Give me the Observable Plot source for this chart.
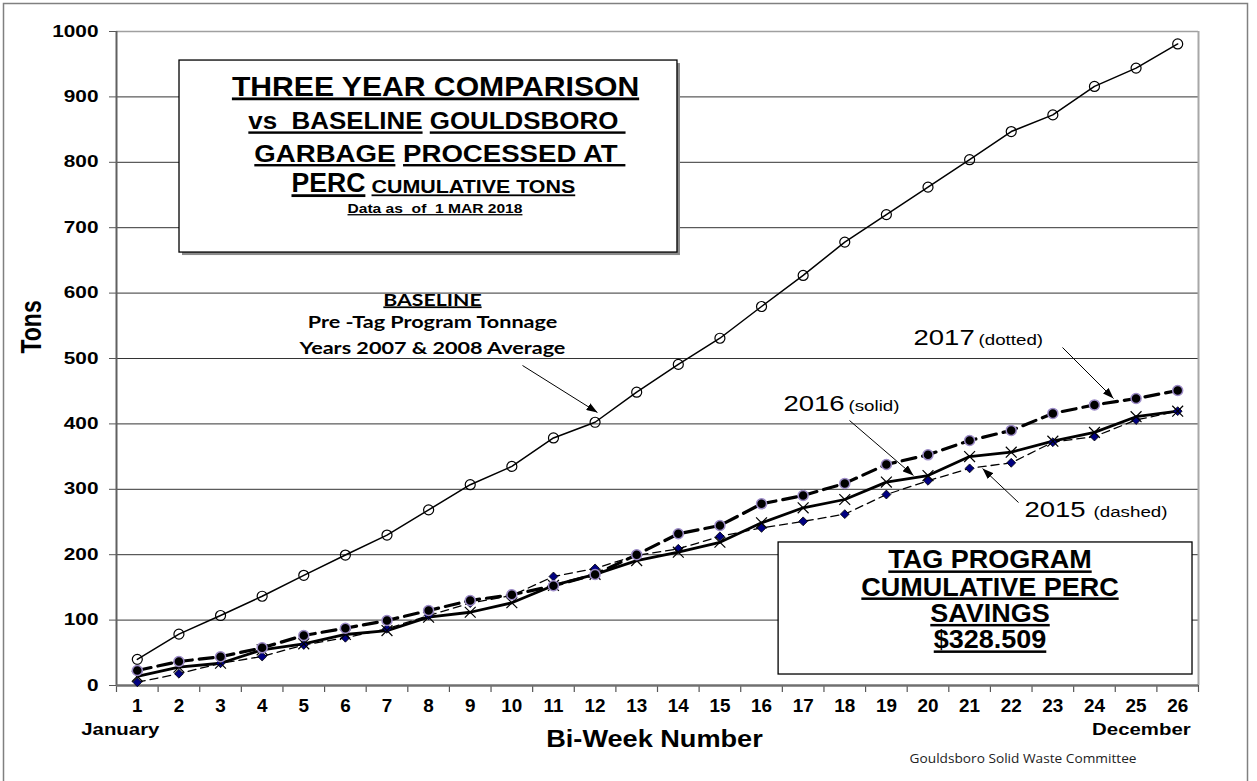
<!DOCTYPE html>
<html><head><meta charset="utf-8">
<script src="https://cdn.jsdelivr.net/npm/d3@7"></script>
<script src="https://cdn.jsdelivr.net/npm/@observablehq/plot@0.6"></script>
<style>html,body{margin:0;padding:0;background:#fff;} #chart svg{display:block;}</style>
</head><body><div id="chart"></div>
<script>
// ---- data ----
const weeks = [1,2,3,4,5,6,7,8,9,10,11,12,13,14,15,16,17,18,19,20,21,22,23,24,25,26];
const baseline = [40,78.5,107,136.5,168.5,199.5,230,268.5,307,335,378.5,402.5,448.5,491,531,579.5,627,678,720,762,804,847,872.5,916,944,981];
const tons2015 = [5,18,34,44.3,62,73,86.7,107,126,137.6,166.7,179,199,209,228,241,251,262,292,313,332,340.5,372,380.7,406,419.5];
const tons2016 = [14,28,34,54.6,63.7,78,84,104.5,112,126.5,153,170,191,203.8,219,248.7,271.7,284.4,311,321,350,356.8,373.6,387,411,419.5];
const tons2017 = [23,36.7,44,57.6,76.5,87.6,99.4,114.7,130,138.7,152.5,169.7,200,232,244.6,277.8,290.5,309,338,352.7,374.6,390,416,429,438.8,451];
const yTicks = [0,100,200,300,400,500,600,700,800,900,1000];
const xTickLabels = weeks.map(String);

const titleLines = ["THREE YEAR COMPARISON","vs  BASELINE GOULDSBORO ","GARBAGE PROCESSED AT ","PERC","CUMULATIVE TONS","Data as  of  1 MAR 2018"];
const tagLines = ["TAG PROGRAM","CUMULATIVE PERC","SAVINGS","$328.509"];
const baselineNote = ["BASELINE","Pre -Tag Program Tonnage","Years 2007 & 2008 Average"];
const seriesLabels = [["2017","(dotted)"],["2016","(solid)"],["2015","(dashed)"]];
const caption = "Gouldsboro Solid Waste Committee";

// ---- tables ----
const rows = (arr, s) => weeks.map((w,i) => ({week:w, tons:arr[i], series:s}));
const dBase = rows(baseline,"Baseline"), d15 = rows(tons2015,"2015"), d16 = rows(tons2016,"2016"), d17 = rows(tons2017,"2017");
const boundaries = [0.5, ...weeks.map(w => w + 0.5)];

// annotation anchors (data units)
const titleBox = {x1:2.014, x2:13.98, y1:662, y2:955.6};
const tagBox = {x1:16.41, x2:26.356, y1:16.8, y2:218.7};
const pointers = [
  {x1:10.256, y1:489.3, x2:12.058, y2:417.4},
  {x1:23.232, y1:516.8, x2:24.458, y2:438.8},
  {x1:18.114, y1:405.2, x2:19.652, y2:321.1},
  {x1:22.175, y1:279.8, x2:21.31,  y2:331.8}
];

const T = (text, opts) => Plot.text([text], {text: d => d, fill: "black", ...opts});

const marks = [
  Plot.frame({stroke:"#808080", strokeWidth:1.5, insetLeft:-113, insetTop:-28, insetRight:-49, insetBottom:-110}),
  Plot.ruleY(yTicks.filter(v => v > 0 && v < 1000), {y: d => d, stroke:"#333", strokeWidth:1}),
  Plot.ruleY([1000], {y: d => d, stroke:"#a0a0a0", strokeWidth:1.5}),
  Plot.ruleX([26.5], {x: d => d, y1:0, y2:1000, stroke:"#a8a8a8", strokeWidth:2}),
  Plot.ruleY(yTicks, {y: d => d, x1:0.5, x2:0.5, insetLeft:-7, stroke:"#555", strokeWidth:1}),
  Plot.ruleX(boundaries, {x: d => d, y1:0, y2:0, insetBottom:-7, stroke:"#555", strokeWidth:1.2}),
  Plot.ruleX([0.5], {x: d => d, y1:0, y2:1000, stroke:"#606060", strokeWidth:2}),
  Plot.ruleY([0], {y: d => d, stroke:"#707070", strokeWidth:2.5}),

  // boxes
  Plot.rect([titleBox], {x1:"x1", x2:"x2", y1:"y1", y2:"y2", fill:"#8a8a8a", dx:3, dy:3}),
  Plot.rect([titleBox], {x1:"x1", x2:"x2", y1:"y1", y2:"y2", fill:"white", stroke:"black", strokeWidth:1.3}),
  Plot.rect([tagBox], {x1:"x1", x2:"x2", y1:"y1", y2:"y2", fill:"white", stroke:"black", strokeWidth:1.3}),

  // series
  Plot.line(dBase, {x:"week", y:"tons", stroke:"black", strokeWidth:1.5}),
  Plot.dot(dBase, {x:"week", y:"tons", r:5, stroke:"black", strokeWidth:1.2, fill:"none"}),
  Plot.line(d15, {x:"week", y:"tons", stroke:"black", strokeWidth:1.3, strokeDasharray:"8,5"}),
  Plot.line(d16, {x:"week", y:"tons", stroke:"black", strokeWidth:2.8}),
  Plot.line(d17, {x:"week", y:"tons", stroke:"black", strokeWidth:3.2, strokeDasharray:"14,7"}),
  Plot.dot(d15, {x:"week", y:"tons", symbol:"diamond2", r:4, fill:"#000080", stroke:"black", strokeWidth:0.8}),
  Plot.dot(d16, {x:"week", y:"tons", symbol:"times", r:5, stroke:"black", strokeWidth:1.2}),
  Plot.dot(d17, {x:"week", y:"tons", r:5, fill:"black", stroke:"#9d8cc8", strokeWidth:1.5}),

  // pointers
  Plot.link(pointers, {x1:"x1", y1:"y1", x2:"x2", y2:"y2", stroke:"black", strokeWidth:1, ariaDescription:"pointer"}),

  // axes text
  Plot.text(yTicks, {y: d => d, text: d => String(d), frameAnchor:"left", textAnchor:"end", dx:-18, fontSize:16, fontWeight:"bold", fill:"black", ariaDescription:"ylab"}),
  Plot.text(weeks, {x: d => d, text: (d,i) => xTickLabels[i], frameAnchor:"bottom", lineAnchor:"bottom", dy:26.7, fontSize:18, fontWeight:"bold", fill:"black", ariaDescription:"xlab"}),
  T("January", {x:1, frameAnchor:"bottom", lineAnchor:"bottom", dx:-17, dy:49, fontSize:17, fontWeight:"bold", ariaDescription:"month"}),
  T("December", {x:26, frameAnchor:"bottom", textAnchor:"end", lineAnchor:"bottom", dx:13, dy:49, fontSize:17, fontWeight:"bold", ariaDescription:"month"}),
  T("Bi-Week Number", {frameAnchor:"bottom", lineAnchor:"bottom", dx:-3, dy:61.7, fontSize:23, fontWeight:"bold", ariaDescription:"xtitle"}),
  T("Tons", {frameAnchor:"left", rotate:-90, dx:-85, dy:-5, fontSize:23, fontWeight:"bold", ariaDescription:"ytitle"}),
  T(caption, {frameAnchor:"bottom-right", textAnchor:"end", lineAnchor:"bottom", dx:-62, dy:77.7, fontFamily:"Open Sans", fontSize:12, fill:"#222", ariaDescription:"caption"}),

  // title box
  T(titleLines[0], {x:8.166, y:902.1, lineAnchor:"bottom", fontSize:28, fontWeight:"bold", ariaDescription:"t1"}),
  T(titleLines[1], {x:8.20, y:850.2, lineAnchor:"bottom", fontSize:24, fontWeight:"bold", ariaDescription:"t2"}),
  T(titleLines[2], {x:8.27, y:800.2, lineAnchor:"bottom", fontSize:24, fontWeight:"bold", ariaDescription:"t3"}),
  T(titleLines[3], {x:4.705, y:754.3, textAnchor:"start", lineAnchor:"bottom", fontSize:28, fontWeight:"bold", ariaDescription:"t4"}),
  T(titleLines[4], {x:6.628, y:752.3, textAnchor:"start", lineAnchor:"bottom", fontSize:18, fontWeight:"bold", ariaDescription:"t5"}),
  T(titleLines[5], {x:8.153, y:722.2, lineAnchor:"bottom", fontSize:13, fontWeight:"bold", ariaDescription:"t6"}),

  // tag box
  ...tagLines.map((s,i) => T(s, {x:21.49, y:[178.9,137.6,97.1,56.6][i], lineAnchor:"bottom", fontSize:25, fontWeight:"bold", ariaDescription:"tag"})),

  // baseline note
  ...baselineNote.map((s,i) => T(s, {x:8.093, y:[581,545.9,507.6][i], lineAnchor:"bottom", fontFamily:"Lato", fontSize:17, fontWeight:"bold", ariaDescription: i === 0 ? "noteU" : "note"})),

  // series labels
  ...seriesLabels.flatMap(([yr, st], i) => {
    const pos = [[19.652, 21.214, 519.9],[16.528, 18.09, 419],[22.319, 23.977, 258.4]][i];
    return [
      T(yr, {x:pos[0], y:pos[2], textAnchor:"start", lineAnchor:"bottom", fontSize:22, ariaDescription:"serlab"}),
      T(st, {x:pos[1], y:pos[2], textAnchor:"start", lineAnchor:"bottom", fontSize:15, ariaDescription:"serlab"})
    ];
  })
];

const svg = Plot.plot({
  width:1257, height:781,
  marginLeft:116, marginRight:59, marginTop:31, marginBottom:96,
  x:{type:"linear", domain:[0.5,26.5], axis:null},
  y:{domain:[0,1000], axis:null},
  style:{background:"white", overflow:"visible", fontFamily:"'Liberation Sans', Arial, sans-serif", color:"black"},
  marks
});
document.getElementById("chart").appendChild(svg);

// ---- post-processing: horizontal stretch, underline, arrowheads ----
const ns = "http://www.w3.org/2000/svg";
const cfg = {
  ylab:{sx:1.3}, xlab:{sx:1.05}, month:{sx:1.2}, xtitle:{sx:1.18}, ytitle:{sy:1.3}, caption:{sx:1.14},
  t1:{sx:1.076, u:3}, t2:{sx:1.08, u:3, gap:/( (?=GOULDSBORO))/}, t3:{sx:1.15, u:3, gap:/( (?=PROCESSED))/},
  t4:{sx:0.95, u:3}, t5:{sx:1.19, u:2.2}, t6:{sx:1.2, u:1.3},
  tag:{sx:1.08, u:3}, noteU:{sx:1.25, u:1.8}, note:{sx:1.27}, serlab:{sx:1.25}
};
function underline(t, th, gap) {
  const s = t.textContent; t.textContent = "";
  (gap ? s.split(gap) : [s]).forEach(part => {
    if (!part) return;
    const ts = document.createElementNS(ns, "tspan");
    ts.textContent = part;
    if (part.trim()) {
      ts.style.textDecoration = "underline";
      ts.style.textDecorationThickness = th + "px";
      ts.style.textUnderlineOffset = "1px";
    }
    t.appendChild(ts);
  });
}
function groups(label) {
  return [...svg.querySelectorAll("g")].filter(g => g.getAttribute("aria-description") === label);
}
for (const [label, c] of Object.entries(cfg)) {
  groups(label).forEach(g => g.querySelectorAll("text").forEach(t => {
    const tr = t.getAttribute("transform") || "";
    t.setAttribute("transform", `${tr} scale(${c.sx || 1},${c.sy || 1})`);
    t.setAttributeNS("http://www.w3.org/XML/1998/namespace", "xml:space", "preserve");
    t.style.whiteSpace = "pre";
    if (c.u) underline(t, c.u, c.gap);
  }));
}
const defs = document.createElementNS(ns, "defs");
defs.innerHTML = '<marker id="ah" viewBox="0 0 11 8" refX="11" refY="4" markerWidth="11" markerHeight="8" markerUnits="userSpaceOnUse" orient="auto"><path d="M0,0L11,4L0,8Z" fill="black"/></marker>';
svg.insertBefore(defs, svg.firstChild);
groups("pointer").forEach(g => g.querySelectorAll("path").forEach(p => p.setAttribute("marker-end", "url(#ah)")));
</script>
</body></html>
